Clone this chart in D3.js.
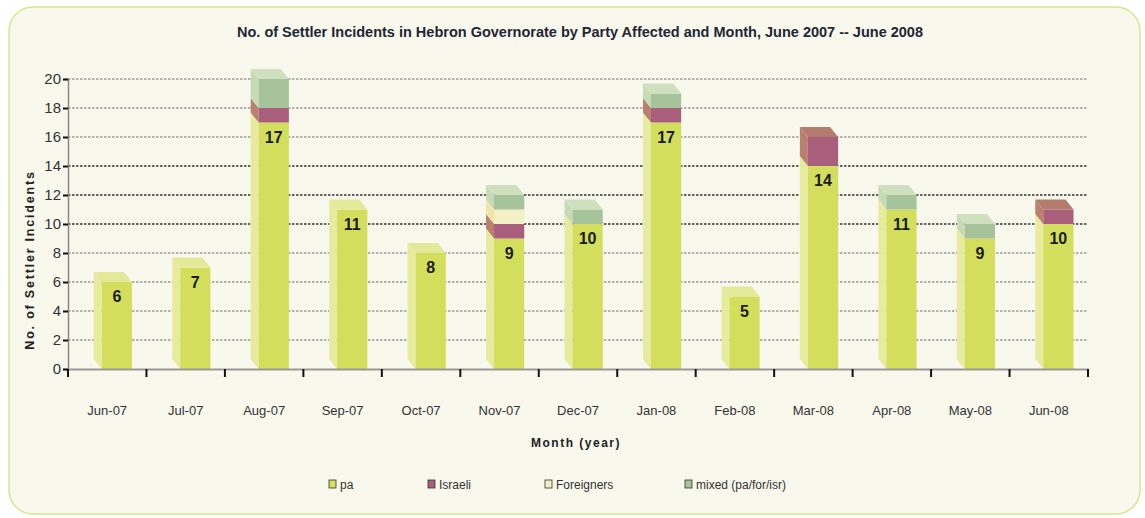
<!DOCTYPE html>
<html>
<head>
<meta charset="utf-8">
<script src="https://cdn.jsdelivr.net/npm/d3@7/dist/d3.min.js"></script>
<style>
  html, body { margin: 0; padding: 0; background: #ffffff; }
  svg { display: block; }
  .narrow { font-family: "Liberation Sans Narrow", "Arial Narrow", "Liberation Sans", Arial, sans-serif; }
</style>
</head>
<body>
<svg id="chart" width="1145" height="518"></svg>
<script>
// Monthly settler incidents in Hebron governorate, by party affected
const months = ["Jun-07","Jul-07","Aug-07","Sep-07","Oct-07","Nov-07","Dec-07","Jan-08","Feb-08","Mar-08","Apr-08","May-08","Jun-08"];
const pa         = [6, 7, 17, 11, 8, 9, 10, 17, 5, 14, 11, 9, 10];
const israeli    = [0, 0,  1,  0, 0, 1,  0,  1, 0,  2,  0, 0,  1];
const foreigners = [0, 0,  0,  0, 0, 1,  0,  0, 0,  0,  0, 0,  0];
const mixed      = [0, 0,  2,  0, 0, 1,  1,  1, 0,  0,  1, 1,  0];
const yTicks = [0, 2, 4, 6, 8, 10, 12, 14, 16, 18, 20];

const seriesKeys = ["pa", "israeli", "foreigners", "mixed"];
const seriesNames = ["pa", "Israeli", "Foreigners", "mixed (pa/for/isr)"];
const palette = {
  pa:         { front: "#d3df5c", side: "#e7eb9e", top: "#e4e99a" },
  israeli:    { front: "#a95f7c", side: "#b98070", top: "#b47c6e" },
  foreigners: { front: "#f3efc6", side: "#efe6a8", top: "#f5f1d2" },
  mixed:      { front: "#a6c39c", side: "#c6dab6", top: "#cfe0bf" }
};

const rows = months.map((m, i) => ({
  month: m, pa: pa[i], israeli: israeli[i], foreigners: foreigners[i], mixed: mixed[i]
}));

const svg = d3.select("#chart");

// Panel background
svg.append("rect")
  .attr("x", 9).attr("y", 7).attr("width", 1131).attr("height", 507)
  .attr("rx", 24).attr("ry", 24)
  .attr("fill", "#f8f8ec").attr("stroke", "#d6e690").attr("stroke-width", 1.5);

// Title
svg.append("text")
  .attr("x", 580).attr("y", 37)
  .attr("text-anchor", "middle")
  .attr("font-family", "Liberation Sans, Arial, sans-serif")
  .attr("font-weight", "bold").attr("font-size", 14)
  .attr("textLength", 686).attr("lengthAdjust", "spacingAndGlyphs")
  .attr("fill", "#1f2636")
  .text("No. of Settler Incidents in Hebron Governorate by Party Affected and Month, June 2007 -- June 2008");

const x = d3.scaleBand().domain(months).range([68, 1088]).padding(0);
const y = d3.scaleLinear().domain([0, 20]).range([369, 79]);

// Gridlines
svg.append("g").selectAll("line").data(yTicks.filter(t => t > 0)).join("line")
  .attr("x1", 68).attr("x2", 1088)
  .attr("y1", d => y(d)).attr("y2", d => y(d))
  .attr("stroke", d => (d >= 10 && d <= 14) ? "#333" : "#999")
  .attr("stroke-width", 1.6)
  .attr("stroke-dasharray", "2.5,1.5");

// Y axis
const yAxis = svg.append("g").attr("transform", "translate(68,0)")
  .call(d3.axisLeft(y).tickValues(yTicks).tickSize(5).tickPadding(2));
yAxis.select(".domain").attr("stroke", "#888").attr("stroke-width", 1.5);
yAxis.selectAll(".tick line").attr("stroke", "#111").attr("stroke-width", 2);
yAxis.selectAll(".tick text")
  .attr("class", "narrow").attr("font-size", 15).attr("fill", "#333");

// Y axis title
svg.append("text")
  .attr("transform", "translate(34,260) rotate(-90)")
  .attr("text-anchor", "middle")
  .attr("font-family", "Liberation Sans, Arial, sans-serif")
  .attr("font-weight", "bold").attr("font-size", 12.5)
  .attr("letter-spacing", 1.8)
  .attr("fill", "#222")
  .text("No. of Settler Incidents");

// 3D stacked bars
const depthX = 8, depthY = 10;
const stack = d3.stack().keys(seriesKeys)(rows);
const bw = x.bandwidth();
const frontLeft = m => x(m) + bw * 0.43;
const frontW = bw * 0.385;

const barsG = svg.append("g");
rows.forEach((row, i) => {
  const x0 = frontLeft(row.month), x1 = x0 + frontW;
  const segs = stack.map(s => ({ key: s.key, lo: s[i][0], hi: s[i][1] })).filter(s => s.hi > s.lo);
  const topKey = segs[segs.length - 1].key;
  segs.forEach(s => {
    const yb = y(s.lo), yt = y(s.hi);
    const c = palette[s.key];
    // left depth face
    barsG.append("path")
      .attr("d", `M${x0},${yt} L${x0 - depthX},${yt - depthY} L${x0 - depthX},${yb - depthY} L${x0},${yb} Z`)
      .attr("fill", c.side);
    // front face
    barsG.append("rect")
      .attr("x", x0).attr("y", yt).attr("width", frontW).attr("height", yb - yt)
      .attr("fill", c.front);
    if (s.key === topKey) {
      barsG.append("path")
        .attr("d", `M${x0},${yt} L${x0 - depthX},${yt - depthY} L${x1 - depthX},${yt - depthY} L${x1},${yt} Z`)
        .attr("fill", c.top);
    }
  });
  // value of the pa series
  barsG.append("text")
    .attr("class", "narrow")
    .attr("x", x0 + frontW / 2)
    .attr("y", y(row.pa) + 20)
    .attr("text-anchor", "middle")
    .attr("font-weight", "bold").attr("font-size", 16)
    .attr("fill", "#1a1a1a")
    .text(row.pa);
});

// X axis
const xAxis = svg.append("g").attr("transform", "translate(0,369)")
  .call(d3.axisBottom(x).tickSize(0).tickPadding(37));
xAxis.select(".domain").attr("stroke", "#999").attr("stroke-width", 2);
xAxis.selectAll(".tick text")
  .attr("class", "narrow").attr("font-size", 13).attr("fill", "#333");
// category boundary ticks
svg.append("g").selectAll("line")
  .data(months.map(m => x(m)).concat([x.range()[1]]))
  .join("line")
  .attr("x1", d => d).attr("x2", d => d)
  .attr("y1", 369).attr("y2", 377)
  .attr("stroke", "#111").attr("stroke-width", 2);

// X axis title
svg.append("text")
  .attr("x", 576).attr("y", 447)
  .attr("text-anchor", "middle")
  .attr("font-family", "Liberation Sans, Arial, sans-serif")
  .attr("font-weight", "bold").attr("font-size", 12)
  .attr("letter-spacing", 1.5)
  .attr("fill", "#222")
  .text("Month (year)");

// Legend
const legendX = [329, 428, 545, 685];
const legend = svg.append("g");
seriesKeys.forEach((k, i) => {
  legend.append("rect")
    .attr("x", legendX[i]).attr("y", 480).attr("width", 7).attr("height", 8)
    .attr("fill", palette[k].front).attr("stroke", "#333").attr("stroke-width", 0.8);
  legend.append("text")
    .attr("class", "narrow")
    .attr("x", legendX[i] + 11).attr("y", 489)
    .attr("font-size", 12).attr("fill", "#333")
    .text(seriesNames[i]);
});
</script>
</body>
</html>
